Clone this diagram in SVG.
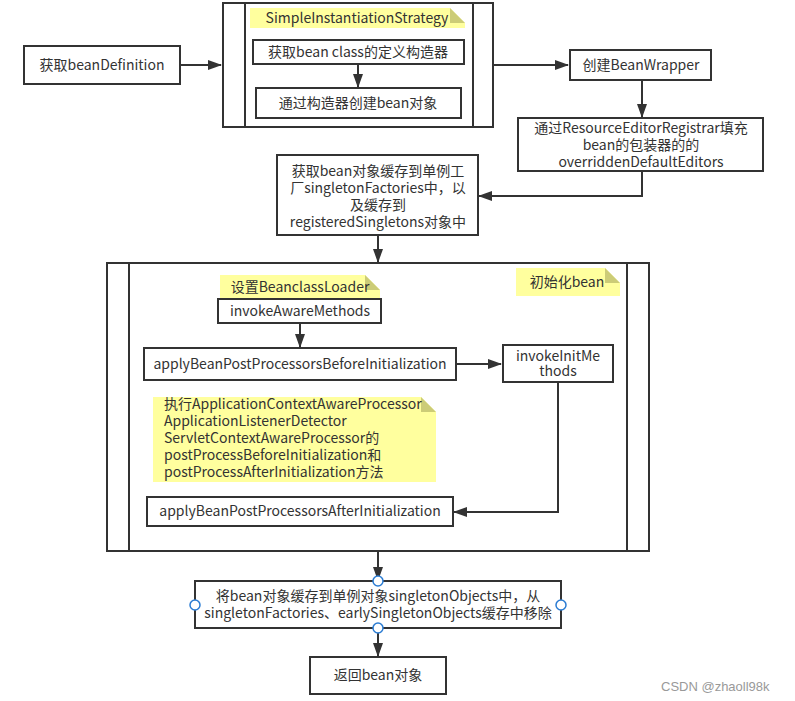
<svg xmlns="http://www.w3.org/2000/svg" width="795" height="701" viewBox="0 0 795 701">
<style>
.box{fill:#fff;stroke:#333;stroke-width:2}
.ln{fill:none;stroke:#333;stroke-width:2}
.note{fill:#ffff9e;stroke:none}
.fold{fill:#cccc77;stroke:none}
text{font-family:"Noto Sans CJK SC","Noto Sans",sans-serif;font-size:14px;fill:#333}
.c{text-anchor:middle}
.h{fill:#fff;stroke:#2b7cd3;stroke-width:1.5}
.wm{font-family:"Liberation Sans",sans-serif;font-size:13px;fill:#999}
</style>
<defs>
<marker id="ar" markerUnits="userSpaceOnUse" markerWidth="14" markerHeight="10" refX="13" refY="5" orient="auto">
<path d="M0,0 L14,5 L0,10 z" fill="#333"/>
</marker>
</defs>
<rect width="795" height="701" fill="#fff"/>

<g id="getBeanDefinition">
<rect class="box" x="24" y="46" width="156" height="38"/>
<text class="c" x="102" y="70">获取beanDefinition</text>
</g>

<g id="simpleInstantiation">
<rect class="box" x="223" y="3" width="270" height="124"/>
<path class="ln" d="M245,3 V127 M473,3 V127"/>
</g>

<g id="noteSimple">
<path class="note" d="M250,8 H450 L465,23 V28 H250 Z"/>
<path class="fold" d="M450,8 L465,23 H450 Z"/>
<text class="c" x="357" y="23">SimpleInstantiationStrategy</text>
</g>

<g id="getConstructor">
<rect class="box" x="253" y="40" width="211" height="24"/>
<text class="c" x="358" y="57">获取bean class的定义构造器</text>
</g>

<g id="createByConstructor">
<rect class="box" x="256" y="88" width="205" height="30"/>
<text class="c" x="358" y="108">通过构造器创建bean对象</text>
</g>

<g id="createBeanWrapper">
<rect class="box" x="570" y="50" width="141" height="30"/>
<text class="c" x="641" y="70">创建BeanWrapper</text>
</g>

<g id="resourceEditor">
<rect class="box" x="518" y="118" width="245" height="53"/>
<text class="c" x="641" y="133">通过ResourceEditorRegistrar填充</text>
<text class="c" x="641" y="150">bean的包装器的的</text>
<text class="c" x="641" y="167">overriddenDefaultEditors</text>
</g>

<g id="cacheSingletonFactories">
<rect class="box" x="277" y="155" width="201" height="80"/>
<text class="c" x="378" y="176">获取bean对象缓存到单例工</text>
<text class="c" x="378" y="193">厂singletonFactories中，以</text>
<text class="c" x="378" y="210">及缓存到</text>
<text class="c" x="378" y="227">registeredSingletons对象中</text>
</g>

<g id="initBean">
<rect class="box" x="107" y="263" width="542" height="288"/>
<path class="ln" d="M129,263 V551 M627,263 V551"/>
</g>

<g id="noteInitBean">
<path class="note" d="M516,268 H605 L620,283 V296 H516 Z"/>
<path class="fold" d="M605,268 L620,283 H605 Z"/>
<text class="c" x="567" y="287">初始化bean</text>
</g>

<g id="noteClassLoader">
<path class="note" d="M220,275 H365 L380,290 V298 H220 Z"/>
<path class="fold" d="M365,275 L380,290 H365 Z"/>
<text class="c" x="300" y="292">设置BeanclassLoader</text>
</g>

<g id="invokeAwareMethods">
<rect class="box" x="218" y="299" width="163" height="24"/>
<text class="c" x="300" y="316">invokeAwareMethods</text>
</g>

<g id="applyBefore">
<rect class="box" x="144" y="348" width="312" height="32"/>
<text class="c" x="300" y="369">applyBeanPostProcessorsBeforeInitialization</text>
</g>

<g id="invokeInitMethods">
<rect class="box" x="503" y="345" width="110" height="37"/>
<text class="c" x="558" y="361">invokeInitMe</text>
<text class="c" x="558" y="376">thods</text>
</g>

<g id="noteProcessors">
<path class="note" d="M153,397 H421 L436,412 V482 H153 Z"/>
<path class="fold" d="M421,397 L436,412 H421 Z"/>
<text x="164" y="409">执行ApplicationContextAwareProcessor</text>
<text x="164" y="426">ApplicationListenerDetector</text>
<text x="164" y="443">ServletContextAwareProcessor的</text>
<text x="164" y="460">postProcessBeforeInitialization和</text>
<text x="164" y="477">postProcessAfterInitialization方法</text>
</g>

<g id="applyAfter">
<rect class="box" x="147" y="497" width="306" height="29"/>
<text class="c" x="300" y="516">applyBeanPostProcessorsAfterInitialization</text>
</g>

<g id="cacheSingletonObjects">
<rect class="box" x="195" y="581" width="366" height="47"/>
<text class="c" x="378" y="601">将bean对象缓存到单例对象singletonObjects中，从</text>
<text class="c" x="378" y="618">singletonFactories、earlySingletonObjects缓存中移除</text>
</g>

<g id="returnBean">
<rect class="box" x="310" y="657" width="136" height="37"/>
<text class="c" x="378" y="680">返回bean对象</text>
</g>

<g id="connectors">
<path class="ln" d="M181,65 H221" marker-end="url(#ar)"/>
<path class="ln" d="M493,65 H568" marker-end="url(#ar)"/>
<path class="ln" d="M358,64 V87" marker-end="url(#ar)"/>
<path class="ln" d="M642,80 V117" marker-end="url(#ar)"/>
<path class="ln" d="M642,171 V196 H479" marker-end="url(#ar)"/>
<path class="ln" d="M378,235 V262" marker-end="url(#ar)"/>
<path class="ln" d="M300,323 V347" marker-end="url(#ar)"/>
<path class="ln" d="M456,364 H501" marker-end="url(#ar)"/>
<path class="ln" d="M558,382 V512 H454" marker-end="url(#ar)"/>
<path class="ln" d="M378,551 V580" marker-end="url(#ar)"/>
<path class="ln" d="M378,628 V656" marker-end="url(#ar)"/>
</g>

<g id="handles">
<circle class="h" cx="378" cy="581" r="5"/>
<circle class="h" cx="195" cy="605" r="5"/>
<circle class="h" cx="561" cy="605" r="5"/>
<circle class="h" cx="378" cy="628" r="5"/>
</g>

<text class="wm" x="661" y="691">CSDN @zhaoll98k</text>
</svg>
